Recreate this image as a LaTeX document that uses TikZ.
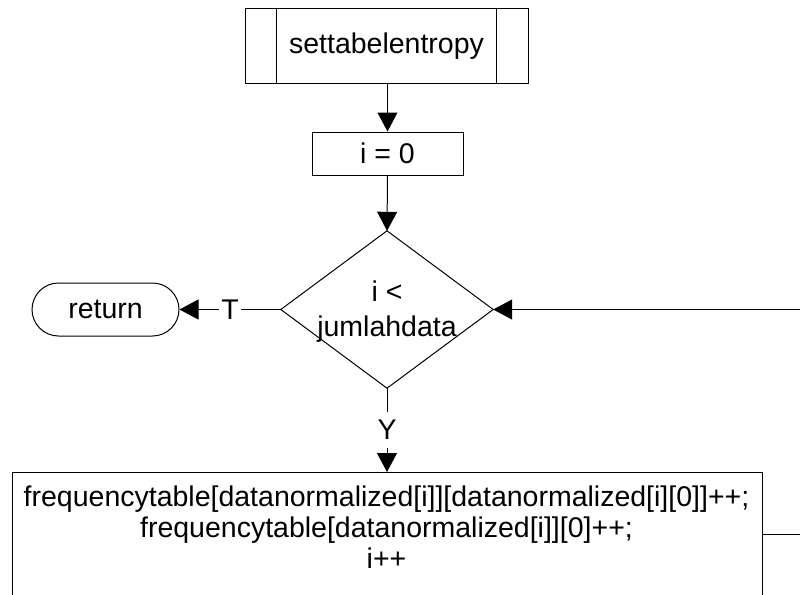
\documentclass[tikz,border=0pt]{standalone}
\usepackage{fontspec}
\setmainfont{Liberation Sans}
\usetikzlibrary{arrows.meta,shapes.misc}
\begin{document}
\begin{tikzpicture}[x=1pt,y=-1pt,
  every node/.style={font=\fontsize{28.5}{31}\selectfont},
  proc/.style={draw, line width=1pt, inner sep=0pt},
  flow/.style={draw, line width=1pt, -{Triangle[length=19pt,width=20pt]}},
  lbl/.style={fill=white, inner xsep=2pt, inner ysep=8pt},
]
\useasboundingbox (0,0) rectangle (800,594);
\begin{scope}
\clip (0,0) rectangle (800,594);

% predefined process
\node[proc, minimum width=283pt, minimum height=74pt] (start) at (386.5,46) {settabelentropy};
\draw[line width=1pt] ([xshift=32pt]start.north west) -- ([xshift=32pt]start.south west);
\draw[line width=1pt] ([xshift=-32pt]start.north east) -- ([xshift=-32pt]start.south east);

% initialisation
\node[proc, minimum width=151pt, minimum height=43pt] (init) at (387.5,153.5) {i = 0};

% loop condition
\node[inner sep=0pt, minimum width=212pt, minimum height=157pt] (dec) at (387,309.5) {};
\draw[line width=1pt] (dec.north) -- (dec.east) -- (dec.south) -- (dec.west) -- cycle;
\node[align=center, font=\fontsize{28.5}{35}\selectfont] (dectext) at (387,312) {i <\\jumlahdata};

% terminator
\node[draw, line width=1pt, rounded rectangle, minimum width=147pt, minimum height=53pt, inner sep=0pt] (ret) at (105.5,309.5) {return};

% loop body
\node[proc, minimum width=750pt, minimum height=150pt, anchor=north] (body) at (387,472) {};
\node[align=center, inner sep=0pt] (bodytext) at (386.5,527) {frequencytable[datanormalized[i]][datanormalized[i][0]]++;\\frequencytable[datanormalized[i]][0]++;\\i++};

% connectors
\draw[flow] (start.south -| init.north) -- (init.north);
\draw[flow] (init.south) -- (dec.north);
\draw[flow] (dec.west) -- node[lbl] (tl) {T} (ret.east);
\draw[flow] (dec.south) -- node[lbl] (yl) {Y} (body.north -| dec.south);
\coordinate (loopa) at (812,534);
\coordinate (loopb) at (812,309.5);
\draw[flow] (body.east |- loopa) -- (loopa) -- (loopb) -- (dec.east);
\end{scope}
\end{tikzpicture}
\end{document}
